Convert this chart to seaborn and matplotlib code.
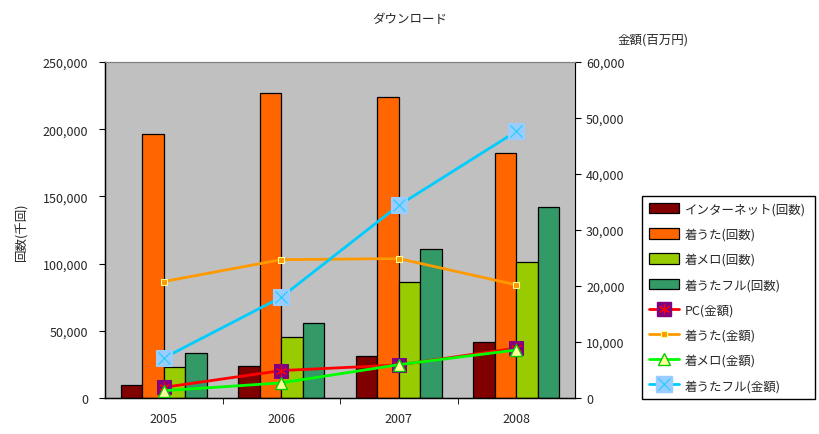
import numpy as np
import pandas as pd
import matplotlib
matplotlib.use("Agg")
import matplotlib.pyplot as plt
import seaborn as sns
from matplotlib.patches import Patch
from matplotlib.lines import Line2D
from matplotlib.legend_handler import HandlerTuple
from matplotlib.ticker import FuncFormatter, FixedLocator

# ---- data ----
years = ["2005", "2006", "2007", "2008"]
bar_series = ["インターネット(回数)", "着うた(回数)", "着メロ(回数)", "着うたフル(回数)"]
internet_cnt = [9700, 23800, 31300, 41400]
uta_cnt = [196200, 227000, 223700, 182000]
melo_cnt = [22800, 45100, 86100, 101000]
full_cnt = [33200, 55600, 110600, 141900]

line_series = ["PC(金額)", "着うた(金額)", "着メロ(金額)", "着うたフル(金額)"]
pc_amt = [1900, 4900, 5900, 8900]
uta_amt = [20800, 24700, 24900, 20200]
melo_amt = [1300, 2700, 5950, 8570]
full_amt = [7140, 18000, 34400, 47600]

bar_colors = ["#800000", "#FF6600", "#99CC00", "#339966"]

sns.set_style("white")
plt.rcParams["font.family"] = ["Noto Sans CJK JP", "DejaVu Sans"]

fig = plt.figure(figsize=(8.19, 4.35), dpi=100)
ax = fig.add_axes([105 / 819, 36 / 435, 470 / 819, 336 / 435])
ax.set_facecolor("#C0C0C0")

df = pd.DataFrame({
    "year": np.repeat(years, 4),
    "series": bar_series * 4,
    "value": [v for row in zip(internet_cnt, uta_cnt, melo_cnt, full_cnt) for v in row],
})
sns.barplot(data=df, x="year", y="value", hue="series", hue_order=bar_series,
            palette=bar_colors, saturation=1, width=0.73, gap=0,
            edgecolor="black", linewidth=0.9, ax=ax, legend=False)

ax.set_xlim(-0.5, 3.5)
ax.set_ylim(0, 250000)
ax.set_yticks(np.arange(0, 250001, 50000))
fmt = FuncFormatter(lambda v, p: f"{int(v):,}")
ax.yaxis.set_major_formatter(fmt)
ax.set_xlabel("")
ax.set_ylabel("")
ax.tick_params(axis="x", which="major", length=0, labelsize=9, pad=10)
ax.xaxis.set_minor_locator(FixedLocator([0.5, 1.5, 2.5]))
ax.tick_params(axis="x", which="minor", length=4, direction="out", color="black", bottom=True)
ax.tick_params(axis="y", length=4, direction="out", labelsize=9, left=True, color="black", pad=8)
for s in ["left", "bottom"]:
    ax.spines[s].set_color("black")
    ax.spines[s].set_linewidth(1)
ax.spines["top"].set_color("#808080")
ax.spines["right"].set_color("#808080")

ax2 = ax.twinx()
ax2.set_ylim(0, 60000)
ax2.set_yticks(np.arange(0, 60001, 10000))
ax2.yaxis.set_major_formatter(fmt)
ax2.tick_params(axis="y", length=4, direction="out", labelsize=9, right=True, color="black", pad=4)
ax2.spines["right"].set_color("black")
ax2.spines["top"].set_color("#808080")
ax2.spines["left"].set_color("black")
ax2.spines["bottom"].set_color("black")
ax2.set_ylabel("")

xi = np.arange(len(years))
lw = 2.0
# PC
sns.lineplot(x=xi, y=pc_amt, ax=ax2, color="#FF0000", linewidth=lw, marker="s",
             markersize=10, markerfacecolor="#800080", markeredgecolor="#800080")
ax2.plot(xi, pc_amt, linestyle="none", marker=(6, 2, 0), markersize=8,
         markeredgecolor="#FF0000", markeredgewidth=0.8)
# 着うた
sns.lineplot(x=xi, y=uta_amt, ax=ax2, color="#FF9900", linewidth=lw, marker="s",
             markersize=4.5, markerfacecolor="#FF9900", markeredgecolor="#FFFF99",
             markeredgewidth=0.8)
# 着メロ
sns.lineplot(x=xi, y=melo_amt, ax=ax2, color="#00FF00", linewidth=lw, marker="^",
             markersize=9, markerfacecolor="#FFFF99", markeredgecolor="#00CC00",
             markeredgewidth=1)
# 着うたフル
sns.lineplot(x=xi, y=full_amt, ax=ax2, color="#00CCFF", linewidth=lw, marker="s",
             markersize=11, markerfacecolor="#99CCFF", markeredgecolor="#99CCFF")
ax2.plot(xi, full_amt, linestyle="none", marker="x", markersize=9,
         markeredgecolor="#33CCFF", markeredgewidth=1)

# ---- legend ----
handles = [Patch(facecolor=c, edgecolor="black", linewidth=0.9) for c in bar_colors]
h_pc = (Line2D([], [], color="#FF0000", linewidth=lw, marker="s", markersize=10,
               markerfacecolor="#800080", markeredgecolor="#800080"),
        Line2D([], [], linestyle="none", marker=(6, 2, 0), markersize=8,
               markeredgecolor="#FF0000", markeredgewidth=0.8))
h_uta = Line2D([], [], color="#FF9900", linewidth=lw, marker="s", markersize=4.5,
               markerfacecolor="#FF9900", markeredgecolor="#FFFF99", markeredgewidth=0.8)
h_melo = Line2D([], [], color="#00FF00", linewidth=lw, marker="^", markersize=9,
                markerfacecolor="#FFFF99", markeredgecolor="#00CC00")
h_full = (Line2D([], [], color="#00CCFF", linewidth=lw, marker="s", markersize=11,
                 markerfacecolor="#99CCFF", markeredgecolor="#99CCFF"),
          Line2D([], [], linestyle="none", marker="x", markersize=9,
                 markeredgecolor="#33CCFF", markeredgewidth=1))
handles += [h_pc, h_uta, h_melo, h_full]
labels = bar_series + line_series
leg = fig.legend(handles, labels, loc="lower left",
                 bbox_to_anchor=(642 / 819, 35 / 435, 173 / 819, 202 / 435),
                 mode="expand", fontsize=9, frameon=True, fancybox=False,
                 edgecolor="black", framealpha=1, handlelength=2.4, handleheight=0.9,
                 labelspacing=0.98, borderpad=0.55, handletextpad=0.45,
                 borderaxespad=0,
                 handler_map={tuple: HandlerTuple(ndivide=1, pad=0)})
leg.get_frame().set_linewidth(1)

fig.text(0.5, 1 - 20 / 435, "ダウンロード", ha="center", va="center", fontsize=9)
fig.text(653 / 819, 1 - 40 / 435, "金額(百万円)", ha="center", va="center", fontsize=9)
fig.text(22 / 819, 1 - 232 / 435, "回数(千回)", ha="center", va="center",
         rotation=90, fontsize=9)

fig.savefig("out.png", dpi=100)
